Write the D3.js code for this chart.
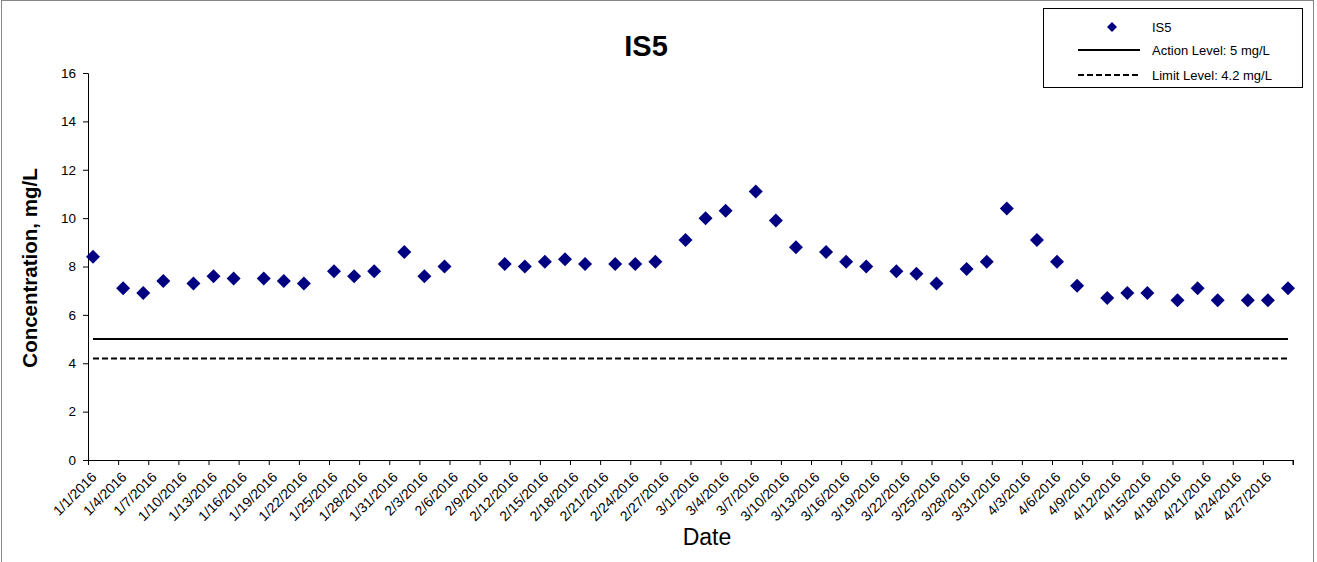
<!DOCTYPE html>
<html>
<head>
<meta charset="utf-8">
<script src="https://cdn.jsdelivr.net/npm/d3@7"></script>
<style>
  html, body { margin: 0; padding: 0; background: #fff; }
  svg { display: block; font-family: "Liberation Sans", Arial, sans-serif; }
</style>
</head>
<body>
<svg id="chart" width="1317" height="562"></svg>
<script>
// ---- data ----
const sampleDates = [
  "1/1/2016","1/4/2016","1/6/2016","1/8/2016","1/11/2016","1/13/2016","1/15/2016","1/18/2016",
  "1/20/2016","1/22/2016","1/25/2016","1/27/2016","1/29/2016","2/1/2016","2/3/2016","2/5/2016",
  "2/11/2016","2/13/2016","2/15/2016","2/17/2016","2/19/2016","2/22/2016","2/24/2016","2/26/2016",
  "2/29/2016","3/2/2016","3/4/2016","3/7/2016","3/9/2016","3/11/2016","3/14/2016","3/16/2016",
  "3/18/2016","3/21/2016","3/23/2016","3/25/2016","3/28/2016","3/30/2016","4/1/2016","4/4/2016",
  "4/6/2016","4/8/2016","4/11/2016","4/13/2016","4/15/2016","4/18/2016","4/20/2016","4/22/2016",
  "4/25/2016","4/27/2016","4/29/2016"
];
const is5Values = [
  8.4, 7.1, 6.9, 7.4, 7.3, 7.6, 7.5, 7.5,
  7.4, 7.3, 7.8, 7.6, 7.8, 8.6, 7.6, 8.0,
  8.1, 8.0, 8.2, 8.3, 8.1, 8.1, 8.1, 8.2,
  9.1, 10.0, 10.3, 11.1, 9.9, 8.8, 8.6, 8.2,
  8.0, 7.8, 7.7, 7.3, 7.9, 8.2, 10.4, 9.1,
  8.2, 7.2, 6.7, 6.9, 6.9, 6.6, 7.1, 6.6,
  6.6, 6.6, 7.1
];
const actionLevel = 5;
const limitLevel = 4.2;
const xTickLabels = [
  "1/1/2016","1/4/2016","1/7/2016","1/10/2016","1/13/2016","1/16/2016","1/19/2016","1/22/2016",
  "1/25/2016","1/28/2016","1/31/2016","2/3/2016","2/6/2016","2/9/2016","2/12/2016","2/15/2016",
  "2/18/2016","2/21/2016","2/24/2016","2/27/2016","3/1/2016","3/4/2016","3/7/2016","3/10/2016",
  "3/13/2016","3/16/2016","3/19/2016","3/22/2016","3/25/2016","3/28/2016","3/31/2016","4/3/2016",
  "4/6/2016","4/9/2016","4/12/2016","4/15/2016","4/18/2016","4/21/2016","4/24/2016","4/27/2016"
];
const xAxisStart = "1/1/2016";
const xAxisEnd = "4/30/2016";
const yTicks = [0, 2, 4, 6, 8, 10, 12, 14, 16];
const titleText = "IS5";
const yTitle = "Concentration, mg/L";
const xTitle = "Date";
const legendLabels = ["IS5", "Action Level: 5 mg/L", "Limit Level: 4.2 mg/L"];

// ---- helpers ----
function parseMDY(s) {
  const [m, d, y] = s.split("/").map(Number);
  return new Date(Date.UTC(y, m - 1, d));
}
const HALF_DAY = 12 * 3600 * 1000;

// ---- layout ----
const svg = d3.select("#chart");
const plot = { left: 88, right: 1293, top: 73, bottom: 460 };
const markerColor = "#000080";

svg.append("rect").attr("x", 1.5).attr("y", 0.5).attr("width", 1312).attr("height", 565)
  .attr("fill", "#fff").attr("stroke", "#868686").attr("stroke-width", 1);

const x = d3.scaleUtc()
  .domain([parseMDY(xAxisStart), parseMDY(xAxisEnd)])
  .range([plot.left, plot.right]);
const y = d3.scaleLinear().domain([0, 16]).range([plot.bottom, plot.top]);

// Y axis
const yAxis = d3.axisLeft(y).tickValues(yTicks).tickSize(5).tickPadding(7).tickFormat(d3.format("d"));
const gy = svg.append("g").attr("transform", `translate(${plot.left},0)`).call(yAxis);
gy.select(".domain").attr("stroke", "#000").attr("d", `M-5,${plot.top + 0.5}H0.5V${plot.bottom}`);
gy.selectAll(".tick line").attr("stroke", "#000");
gy.selectAll(".tick text").attr("font-size", 13.5).attr("fill", "#000")
  .attr("font-family", "'Liberation Sans', Arial, sans-serif");

// X axis
const tickDates = xTickLabels.map(parseMDY).concat([parseMDY(xAxisEnd)]);
const labelMap = new Map(xTickLabels.map(s => [parseMDY(s).getTime(), s]));
const xAxis = d3.axisBottom(x).tickValues(tickDates).tickSize(5)
  .tickFormat(d => labelMap.get(d.getTime()) || "");
const gx = svg.append("g").attr("transform", `translate(0,${plot.bottom})`).call(xAxis);
gx.select(".domain").attr("stroke", "#000").attr("d", `M${plot.left},0.5H${plot.right}V5`);
gx.selectAll(".tick line").attr("stroke", "#000");
gx.selectAll(".tick text")
  .attr("font-size", 14).attr("fill", "#000")
  .attr("font-family", "'Liberation Sans', Arial, sans-serif")
  .attr("text-anchor", "end")
  .attr("dy", null).attr("y", null)
  .attr("transform", "translate(9,18) rotate(-45)");

// Reference lines spanning the sampled range
const firstDate = new Date(parseMDY(sampleDates[0]).getTime() + HALF_DAY);
const lastDate = new Date(parseMDY(sampleDates[sampleDates.length - 1]).getTime() + HALF_DAY);
svg.append("line")
  .attr("x1", x(firstDate)).attr("x2", x(lastDate))
  .attr("y1", y(actionLevel)).attr("y2", y(actionLevel))
  .attr("stroke", "#000").attr("stroke-width", 2);
svg.append("line")
  .attr("x1", x(firstDate)).attr("x2", x(lastDate))
  .attr("y1", y(limitLevel)).attr("y2", y(limitLevel))
  .attr("stroke", "#000").attr("stroke-width", 2).attr("stroke-dasharray", "6,3");

// Markers
const diamond = "M0,-7L7,0L0,7L-7,0Z";
svg.append("g").selectAll("path")
  .data(sampleDates.map((d, i) => ({ date: new Date(parseMDY(d).getTime() + HALF_DAY), v: is5Values[i] })))
  .join("path")
  .attr("d", diamond)
  .attr("transform", d => `translate(${x(d.date)},${y(d.v)})`)
  .attr("fill", markerColor);

// Titles
svg.append("text").attr("x", 646).attr("y", 56).attr("text-anchor", "middle")
  .attr("font-size", 29).attr("font-weight", "bold").text(titleText);
svg.append("text").attr("transform", "translate(37,268) rotate(-90)").attr("text-anchor", "middle")
  .attr("font-size", 20.5).attr("font-weight", "bold").text(yTitle);
svg.append("text").attr("x", 707).attr("y", 545).attr("text-anchor", "middle")
  .attr("font-size", 23).text(xTitle);

// Legend
const lg = svg.append("g");
lg.append("rect").attr("x", 1043.5).attr("y", 8.5).attr("width", 259).attr("height", 79)
  .attr("fill", "#fff").attr("stroke", "#000").attr("stroke-width", 1);
const rowsY = [27, 50, 75];
lg.append("path").attr("d", "M0,-5L5,0L0,5L-5,0Z")
  .attr("transform", `translate(1112,${rowsY[0]})`).attr("fill", markerColor);
lg.append("line").attr("x1", 1078).attr("x2", 1140).attr("y1", rowsY[1]).attr("y2", rowsY[1])
  .attr("stroke", "#000").attr("stroke-width", 2);
lg.append("line").attr("x1", 1078).attr("x2", 1140).attr("y1", rowsY[2]).attr("y2", rowsY[2])
  .attr("stroke", "#000").attr("stroke-width", 2).attr("stroke-dasharray", "6,3");
legendLabels.forEach((t, i) => {
  lg.append("text").attr("x", 1152).attr("y", rowsY[i]).attr("dy", "0.35em")
    .attr("font-size", 13).text(t);
});
</script>
</body>
</html>
